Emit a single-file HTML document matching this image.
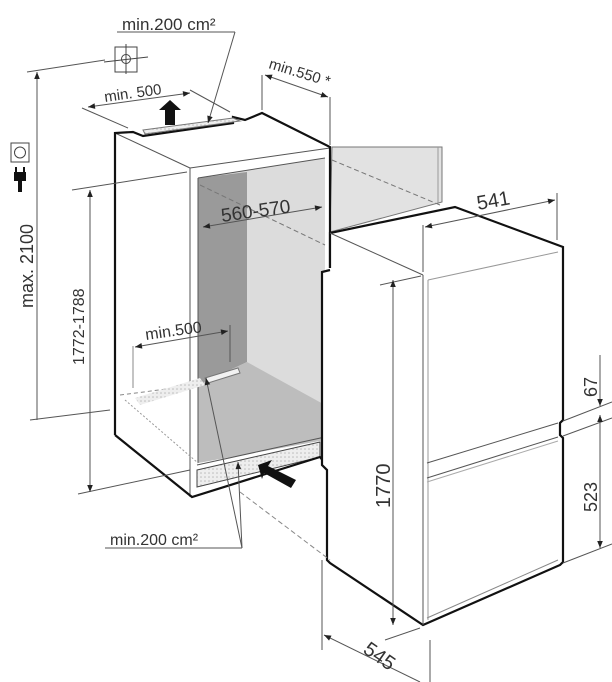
<!DOCTYPE html>
<html><head><meta charset="utf-8"><style>
html,body{margin:0;padding:0;background:#fff;}
svg{display:block;}
text{font-family:"Liberation Sans",sans-serif;fill:#333;}
</style></head><body>
<svg width="612" height="682" viewBox="0 0 612 682" xmlns="http://www.w3.org/2000/svg">
<defs>
<marker id="a" viewBox="0 0 10 10" refX="10" refY="5" markerWidth="9" markerHeight="7" orient="auto-start-reverse" markerUnits="userSpaceOnUse"><path d="M0,1 L10,5 L0,9 z" fill="#222"/></marker>
<pattern id="h" width="4" height="4" patternUnits="userSpaceOnUse"><rect width="4" height="4" fill="#eee"/><circle cx="1" cy="1" r="0.8" fill="#bbb"/></pattern>
</defs>
<g stroke="#555" stroke-width="1" fill="none">
<polygon points="332,147 442,147 442,202 330,232" fill="#e2e2e2" stroke="#777"/>
<line x1="438" y1="147" x2="438" y2="203" stroke="#999"/>
<polygon points="198,178 325,158 325,440 198,463" fill="#dcdcdc" stroke="none"/>
<polygon points="198,178 247,172 247,362 198,385" fill="#9a9a9a" stroke="none"/>
<polygon points="198,385 247,362 325,405 325,440 198,463" fill="#bdbdbd" stroke="none"/>
<polygon points="205,378 238,368 240,373 208,383" fill="#f2f2f2" stroke="#777"/>
<line x1="198" y1="178" x2="325" y2="158"/>
<line x1="190" y1="168" x2="330" y2="148"/>
<line x1="115" y1="133" x2="190" y2="168"/>
<line x1="190" y1="168" x2="190" y2="497"/>
<line x1="198" y1="178" x2="198" y2="463"/>
<line x1="200" y1="185" x2="325" y2="245" stroke-dasharray="5,3" stroke="#777"/>
<line x1="332" y1="160" x2="440" y2="205" stroke-dasharray="5,3" stroke="#777"/>
<line x1="120" y1="395" x2="198" y2="385" stroke-dasharray="4,3" stroke="#888"/>
<line x1="125" y1="400" x2="198" y2="463" stroke-dasharray="2,2" stroke="#999"/>
<polygon points="135,398 200,378 205,385 140,405" fill="url(#h)" stroke="none"/>
<polygon points="197,470 320,442 320,457 197,487" fill="url(#h)" stroke="#444"/>
<line x1="197" y1="465" x2="325" y2="437"/>
<path d="M115,435 L115,133 L133,132 L143,136 L233,123 L233,117 L245,120 L262,113 L330,147 L330,268" stroke="#111" stroke-width="2.2"/>
<path d="M115,435 L192,497 L320,457 L330,470" stroke="#111" stroke-width="2.2"/>
<polygon points="143,130 233,118 240,121 145,134" fill="url(#h)" stroke="#777"/>
<polygon points="330,233 455,207 563,247 423,275" fill="#fff" stroke="none"/>
<polygon points="423,275 563,247 563,565 423,625" fill="#fff" stroke="none"/>
<polygon points="322,272 330,270 330,233 423,275 423,625 330,563 322,560" fill="#fff" stroke="none"/>
<path d="M330,268 L330,233 L455,207 L563,247 L563,420 L560,423 L560,435 L563,438 L563,562 L560,565 L423,625 L330,563 L327,560 L327,470 L322,465 L322,272 L330,270" stroke="#111" stroke-width="2.2"/>
<line x1="330" y1="233" x2="423" y2="275"/>
<line x1="423" y1="275" x2="423" y2="625"/>
<line x1="428" y1="280" x2="428" y2="620" stroke="#999"/>
<line x1="428" y1="280" x2="558" y2="252" stroke="#999"/>
<line x1="427" y1="463" x2="558" y2="423"/>
<line x1="427" y1="478" x2="558" y2="437"/>
<line x1="427" y1="482" x2="558" y2="441" stroke="#aaa"/>
<line x1="427" y1="618" x2="558" y2="560" stroke="#888"/>
<line x1="240" y1="492" x2="330" y2="560" stroke-dasharray="5,3" stroke="#888"/>
<line x1="27" y1="72" x2="105" y2="60"/><line x1="30" y1="420" x2="110" y2="410"/>
<line x1="37" y1="420" x2="37" y2="72" marker-end="url(#a)"/>
<line x1="72" y1="190" x2="187" y2="172"/><line x1="78" y1="494" x2="190" y2="470"/>
<line x1="90" y1="492" x2="90" y2="190" marker-end="url(#a)" marker-start="url(#a)"/>
<line x1="117" y1="32" x2="235" y2="32"/>
<line x1="235" y1="32" x2="208" y2="123" marker-end="url(#a)"/>
<line x1="82" y1="108" x2="128" y2="128"/><line x1="190" y1="90" x2="230" y2="112"/>
<line x1="88" y1="107" x2="190" y2="93" marker-end="url(#a)" marker-start="url(#a)"/>
<line x1="262" y1="75" x2="262" y2="110"/><line x1="330" y1="97" x2="330" y2="145"/>
<line x1="265" y1="75" x2="328" y2="97" marker-end="url(#a)" marker-start="url(#a)"/>
<line x1="203" y1="227" x2="322" y2="207" marker-end="url(#a)" marker-start="url(#a)"/>
<line x1="133" y1="346" x2="133" y2="388" stroke="#888"/><line x1="230" y1="325" x2="230" y2="362"/>
<line x1="135" y1="347" x2="228" y2="331" marker-end="url(#a)" marker-start="url(#a)"/>
<line x1="105" y1="548" x2="242" y2="548"/>
<line x1="242" y1="548" x2="206" y2="378" marker-end="url(#a)"/>
<line x1="242" y1="548" x2="238" y2="462" marker-end="url(#a)"/>
<line x1="423" y1="225" x2="423" y2="272"/><line x1="557" y1="193" x2="557" y2="240"/>
<line x1="425" y1="227" x2="555" y2="200" marker-end="url(#a)" marker-start="url(#a)"/>
<line x1="380" y1="285" x2="421" y2="276"/><line x1="385" y1="640" x2="420" y2="628"/>
<line x1="393" y1="625" x2="393" y2="280" marker-end="url(#a)" marker-start="url(#a)"/>
<line x1="563" y1="421" x2="612" y2="402"/><line x1="563" y1="436" x2="612" y2="418"/><line x1="563" y1="563" x2="612" y2="544"/>
<line x1="600" y1="355" x2="600" y2="406" marker-end="url(#a)"/>
<line x1="600" y1="548" x2="600" y2="415" marker-end="url(#a)" marker-start="url(#a)"/>
<line x1="322" y1="560" x2="322" y2="650"/><line x1="430" y1="640" x2="430" y2="682"/>
<line x1="324" y1="635" x2="420" y2="682" marker-start="url(#a)"/>
</g>
<polygon points="170,100 181,110 175,110 175,125 165,125 165,110 159,110" fill="#111"/>
<polygon points="258,465 272,460 268,466 296,480 291,488 264,473 262,479" fill="#111"/>
<rect x="115" y="47" width="22" height="25" fill="none" stroke="#444"/>
<circle cx="126" cy="59" r="4.5" fill="none" stroke="#444"/>
<line x1="104" y1="62" x2="148" y2="57" stroke="#444"/><line x1="126" y1="44" x2="126" y2="74" stroke="#444"/>
<rect x="11" y="143" width="18" height="19" fill="none" stroke="#444"/>
<circle cx="20" cy="152.5" r="5.5" fill="none" stroke="#444"/>
<rect x="14" y="172" width="12" height="9" fill="#111"/><rect x="15" y="167" width="2" height="6" fill="#111"/><rect x="23" y="167" width="2" height="6" fill="#111"/><rect x="18" y="180" width="4" height="12" fill="#111"/>
<text x="122" y="30" font-size="17">min.200 cm²</text>
<text x="105" y="102" font-size="15" transform="rotate(-8 105 102)">min. 500</text>
<text x="268" y="68" font-size="15" transform="rotate(17 268 68)">min.550 *</text>
<text x="222" y="222" font-size="19" transform="rotate(-8 222 222)">560-570</text>
<text x="146" y="340" font-size="16" transform="rotate(-8 146 340)">min.500</text>
<text x="110" y="545" font-size="16">min.200 cm²</text>
<text x="0" y="0" font-size="18" transform="translate(33,308) rotate(-90)">max. 2100</text>
<text x="0" y="0" font-size="16" transform="translate(84,365) rotate(-90)">1772-1788</text>
<text x="478" y="210" font-size="20" transform="rotate(-10 478 210)">541</text>
<text x="0" y="0" font-size="20" transform="translate(390,508) rotate(-90)">1770</text>
<text x="0" y="0" font-size="18" transform="translate(597,397) rotate(-90)">67</text>
<text x="0" y="0" font-size="18" transform="translate(597,512) rotate(-90)">523</text>
<text x="0" y="0" font-size="20" transform="translate(362,652) rotate(35)">545</text>
</svg>
</body></html>
